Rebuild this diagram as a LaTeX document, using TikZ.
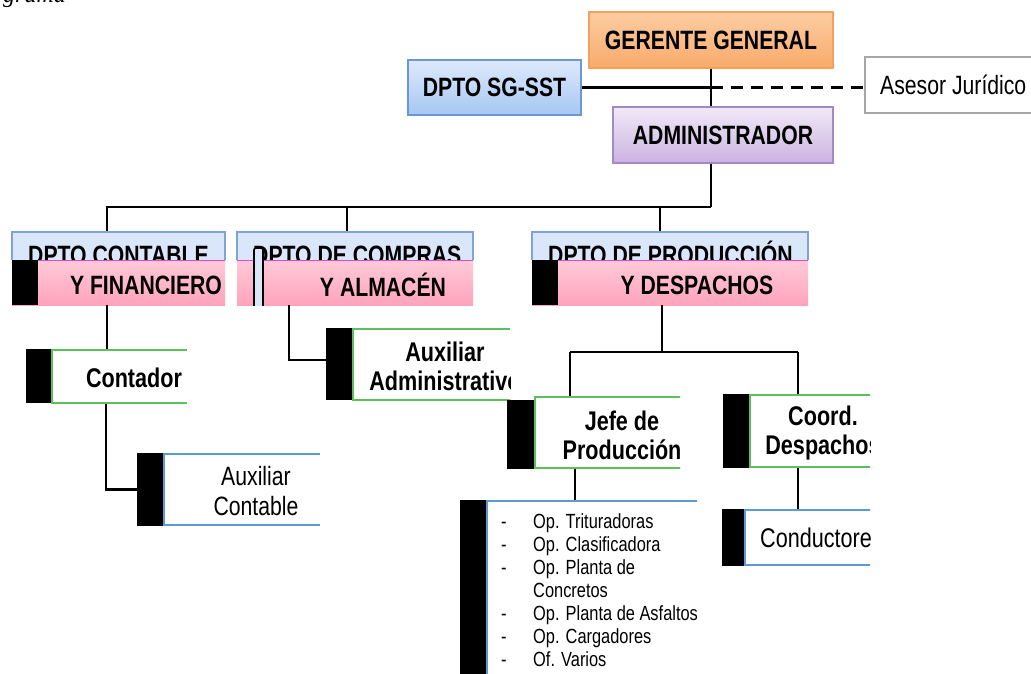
\documentclass[tikz,border=0pt]{standalone}
\usepackage{fontspec}
\newfontfamily\nar{Liberation Sans}[FakeStretch=0.8]
\newfontfamily\serifit{Liberation Serif}
\definecolor{orTop}{HTML}{FCCDA2}
\definecolor{orBot}{HTML}{F9AA6A}
\definecolor{orLine}{HTML}{F3A15C}
\definecolor{sbTop}{HTML}{DEEAFC}
\definecolor{sbBot}{HTML}{A6C6F2}
\definecolor{sbLine}{HTML}{6A98D2}
\definecolor{puTop}{HTML}{F1E9F8}
\definecolor{puBot}{HTML}{CBB2E0}
\definecolor{puLine}{HTML}{A48AC4}
\definecolor{dBlue}{HTML}{DAE6FA}
\definecolor{dLine}{HTML}{7FA3D5}
\definecolor{pkTop}{HTML}{FFCBD9}
\definecolor{pkBot}{HTML}{FFA3BD}
\definecolor{pkLine}{HTML}{E845C8}
\definecolor{grn}{HTML}{5CC05C}
\definecolor{bln}{HTML}{5B9BD5}
\definecolor{gry}{HTML}{A6A6A6}
\begin{document}
\begin{tikzpicture}[x=1pt,y=-1pt,
  region/.style={draw=none,inner sep=0pt,minimum width=#1},
  topbox/.style={inner sep=0pt,line width=1.2pt,font=\nar\bfseries\fontsize{26.5}{29}\selectfont},
  hd/.style={inner sep=0pt,font=\nar\bfseries\fontsize{26.5}{29}\selectfont},
  bt/.style={inner sep=0pt,align=center,font=\nar\bfseries\fontsize{27}{29}\selectfont},
  nt/.style={inner sep=0pt,align=center,font=\nar\fontsize{26.5}{30}\selectfont},
  lt/.style={inner sep=0pt,anchor=base west,font=\nar\fontsize{20.5}{23}\selectfont},
  conn/.style={draw=black,line width=2.3pt},
  gline/.style={draw=grn,line width=2pt},
  bline/.style={draw=bln,line width=2pt}]
\useasboundingbox (0,0) rectangle (1031,673);
\clip (0,0) rectangle (1031,673);

% cut-off caption
\node[inner sep=0pt,anchor=base west,font=\serifit\itshape\fontsize{24}{24}\selectfont] (cap) at (3,2) {grama};

% top level
\node[topbox,top color=orTop,bottom color=orBot,draw=orLine,minimum width=244,minimum height=56] (gg) at (711,40) {GERENTE GENERAL};
\node[topbox,top color=sbTop,bottom color=sbBot,draw=sbLine,minimum width=173,minimum height=55] (sst) at (494.5,87.5) {DPTO SG-SST};
\node[topbox,fill=white,draw=gry,line width=1.5pt,minimum width=190,minimum height=56,anchor=west] (ase) at (864,85) {};
\node[inner sep=0pt,anchor=west,font=\nar\fontsize{26.5}{29}\selectfont] (aset) at ([xshift=16]ase.west) {Asesor Jurídico};
\node[topbox,top color=puTop,bottom color=puBot,draw=puLine,minimum width=220,minimum height=56] (adm) at (723,135) {ADMINISTRADOR};

\coordinate (j1) at (gg.south |- sst.east);
\draw[conn] (gg.south) -- (gg.south |- adm.north);
\draw[conn] (sst.east) -- (j1);
\draw[conn,dash pattern=on 12pt off 8pt] (j1) -- (ase.west |- j1);
\coordinate (bus) at (711,207);
\draw[conn] (adm.south -| gg.south) -- (bus);

% department regions
\node[region=213,minimum height=73] (cont) at (118.5,268.5) {};
\node[region=236,minimum height=73] (comp) at (355,268.5) {};
\node[region=276,minimum height=73] (prod) at (670,268.5) {};

\draw[conn] ([xshift=-11.5]cont.north) |- (bus);
\draw[conn] ([xshift=-8]comp.north) -- ([xshift=-8]comp.north |- bus);
\draw[conn] ([xshift=-10]prod.north) -- ([xshift=-10]prod.north |- bus);

% DPTO CONTABLE
\begin{scope}
\clip (12,232) rectangle (225,305);
\fill[dBlue] (12,232) rectangle (225,260);
\node[hd,anchor=base west] at (28,264) {DPTO CONTABLE};
\shade[top color=pkTop,bottom color=pkBot] (12,260) rectangle (225,305);
\draw[pkLine,line width=1pt] (38,260) -- (225,260);
\fill[black] (12,260) rectangle (38,305);
\node[hd] at (146,285) {Y FINANCIERO};
\end{scope}
\draw[dLine,line width=1.2pt] (12,260) -- (12,232) -- (225,232) -- (225,260);

% DPTO DE COMPRAS
\begin{scope}
\clip (237,232) rectangle (473,305);
\fill[dBlue] (237,232) rectangle (473,260);
\node[hd,anchor=base west] at (253,264) {DPTO DE COMPRAS};
\shade[top color=pkTop,bottom color=pkBot] (237,260) rectangle (473,305);
\draw[pkLine,line width=1pt] (237,260) -- (473,260);
\node[hd] at (383,285) {Y ALMACÉN};
\draw[black,line width=1.6pt,fill=dBlue,rounded corners=2pt] (254,306) -- (254,248) -- (263,248) -- (263,306);
\end{scope}
\draw[dLine,line width=1.2pt] (237,260) -- (237,232) -- (473,232) -- (473,260);

% DPTO DE PRODUCCION
\begin{scope}
\clip (532,232) rectangle (808,305);
\fill[dBlue] (532,232) rectangle (808,260);
\node[hd,anchor=base west] at (548,264) {DPTO DE PRODUCCIÓN};
\shade[top color=pkTop,bottom color=pkBot] (532,260) rectangle (808,305);
\draw[pkLine,line width=1pt] (558,260) -- (808,260);
\fill[black] (532,260) rectangle (558,305);
\node[hd] at (697,285) {Y DESPACHOS};
\end{scope}
\draw[dLine,line width=1.2pt] (532,260) -- (532,232) -- (808,232) -- (808,260);

% child regions
\node[region=161,minimum height=54] (ctd) at (106.5,376) {};
\node[region=183,minimum height=73] (auxc) at (228.5,489.5) {};
\node[region=184,minimum height=72] (auxa) at (418,364) {};
\node[region=173,minimum height=73] (jefe) at (593.5,432.5) {};
\node[region=147,minimum height=74] (coord) at (796.5,431) {};
\node[region=237,minimum height=190] (lst) at (578.5,596) {};
\node[region=148,minimum height=57] (cond) at (796,537.5) {};

% connectors to children
\draw[conn] ([xshift=-11.5]cont.south) -- ([xshift=-11.5]cont.south |- ctd.north);
\draw[conn] ([xshift=-0.5]ctd.south) |- (auxc.west);
\draw[conn] ([xshift=-66]comp.south) |- ([yshift=4]auxa.west);
\coordinate (pbus) at (662,352);
\draw[conn] ([xshift=-8]prod.south) -- (pbus);
\draw[conn] (570,352) -- (798,352);
\draw[conn] (570,352) -- (570,396);
\draw[conn] (798,352) -- (798,394);
\draw[conn] ([xshift=-18.5]jefe.south) -- ([xshift=-18.5]jefe.south |- lst.north);
\draw[conn] ([xshift=1.5]coord.south) -- ([xshift=1.5]coord.south |- cond.north);

% Contador
\fill[black] (26,349) rectangle (52,403);
\draw[gline] (187,350) -- (52,350) -- (52,403) -- (187,403);
\node[bt] at (134,378) {Contador};

% Auxiliar Contable
\fill[black] (137,453) rectangle (164,526);
\draw[bline] (320,454) -- (164,454) -- (164,525) -- (320,525);
\node[nt] at (256,491) {Auxiliar\\Contable};

% Auxiliar Administrativo
\begin{scope}
\clip (300,320) rectangle (510,410);
\fill[black] (326,328) rectangle (353,400);
\draw[gline] (512,329) -- (353,329) -- (353,400) -- (512,400);
\node[bt] at (445,366) {Auxiliar\\Administrativo};
\end{scope}

% Jefe de Produccion
\begin{scope}
\clip (500,390) rectangle (680,475);
\fill[black] (507,400) rectangle (535,469);
\draw[gline] (682,397) -- (535,397) -- (535,468) -- (682,468);
\node[bt] at (622,435) {Jefe de\\Producción};
\end{scope}

% Coord. Despachos
\begin{scope}
\clip (715,388) rectangle (870,475);
\fill[black] (723,394) rectangle (750,468);
\draw[gline] (872,395) -- (750,395) -- (750,467) -- (872,467);
\node[bt] at (823,433) {Coord.\\Despachos};
\end{scope}

% list box
\begin{scope}
\clip (455,495) rectangle (697,673);
\fill[black] (460,500) rectangle (487,680);
\draw[bline] (699,501) -- (487,501) -- (487,680);
\foreach \t [count=\i] in {Op. Trituradoras,Op. Clasificadora,Op. Planta de,Concretos,Op. Planta de Asfaltos,Op. Cargadores,Of. Varios}{
  \node[lt] at (533,{521+23*(\i-1)+7}) {\t};
}
\foreach \i in {1,2,3,5,6,7}{
  \node[lt] at (501,{521+23*(\i-1)+7}) {-};
}
\end{scope}

% Conductores
\begin{scope}
\clip (715,500) rectangle (870,575);
\fill[black] (722,509) rectangle (745,566);
\draw[bline] (872,510) -- (745,510) -- (745,565) -- (872,565);
\node[inner sep=0pt,anchor=west,font=\nar\fontsize{27}{29}\selectfont] at (760,538) {Conductores};
\end{scope}
\end{tikzpicture}
\end{document}
